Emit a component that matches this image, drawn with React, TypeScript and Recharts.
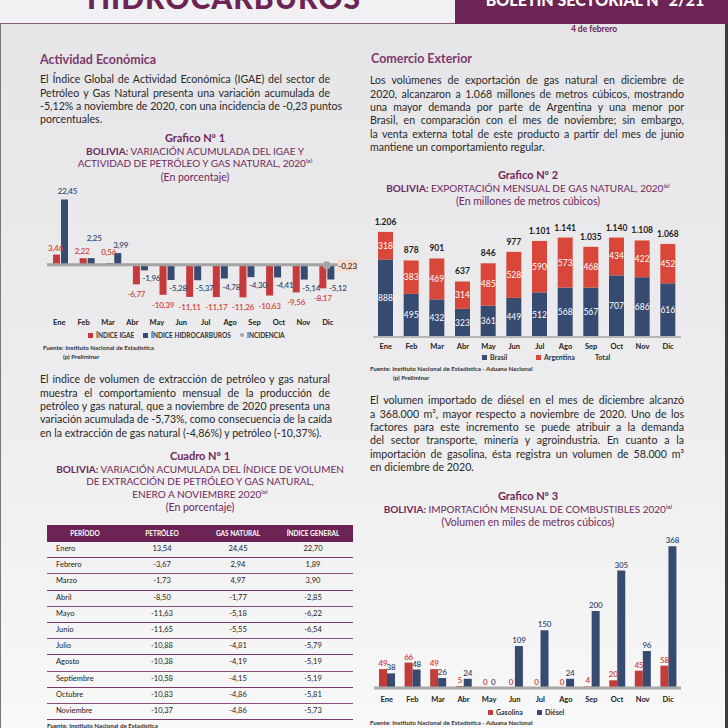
import React from "react";
import { ComposedChart, BarChart, Bar, Line, XAxis, YAxis, ReferenceLine, LabelList } from "recharts";

const MESES = ["Ene", "Feb", "Mar", "Abr", "May", "Jun", "Jul", "Ago", "Sep", "Oct", "Nov", "Dic"];

// Grafico 1 (datos de enero a noviembre)
const IGAE = [3.46, 2.22, 0.56, -6.77, -10.39, -11.11, -11.17, -11.26, -10.63, -9.56, -8.17];
const HIDRO = [22.45, 2.25, 3.99, -1.96, -5.28, -5.37, -4.78, -4.3, -4.41, -5.14, -5.12];
const INCIDENCIA = [null, null, null, null, null, null, null, null, null, null, -0.23];

// Grafico 2
const BRASIL = [888, 495, 432, 323, 361, 449, 512, 568, 567, 707, 686, 616];
const ARGENTINA = [318, 383, 469, 314, 485, 528, 590, 573, 468, 434, 422, 452];
const TOTAL = [1206, 878, 901, 637, 846, 977, 1101, 1141, 1035, 1140, 1108, 1068];

// Grafico 3
const GASOLINA = [49, 66, 49, 5, 0, 0, 0, 0, 4, 20, 45, 58];
const DIESEL = [38, 48, 26, 24, 0, 109, 150, 24, 200, 305, 96, 368];

// Cuadro 1
const PERIODOS = ["Enero", "Febrero", "Marzo", "Abril", "Mayo", "Junio", "Julio", "Agosto", "Septiembre", "Octubre", "Noviembre"];
const PETROLEO = [13.54, -3.67, -1.73, -8.5, -11.63, -11.65, -10.88, -10.38, -10.58, -10.83, -10.37];
const GAS_NATURAL = [24.45, 2.94, 4.97, -1.77, -5.18, -5.55, -4.81, -4.19, -4.15, -4.86, -4.86];
const INDICE_GENERAL = [22.7, 1.89, 3.9, -2.85, -6.22, -6.54, -5.79, -5.19, -5.19, -5.81, -5.73];

const PARA_1 = [
  "El Índice Global de Actividad Económica (IGAE) del sector de",
  "Petróleo y Gas Natural presenta una variación acumulada de",
  "-5,12% a noviembre de 2020, con una incidencia de -0,23 puntos",
  "porcentuales.",
];
const PARA_2 = [
  "El índice de volumen de extracción de petróleo y gas natural",
  "muestra el comportamiento mensual de la producción de",
  "petróleo y gas natural, que a noviembre de 2020 presenta una",
  "variación acumulada de -5,73%, como consecuencia de la caída",
  "en la extracción de gas natural (-4,86%) y petróleo (-10,37%).",
];
const PARA_3 = [
  "Los volúmenes de exportación de gas natural en diciembre de",
  "2020, alcanzaron a 1.068 millones de metros cúbicos, mostrando",
  "una mayor demanda por parte de Argentina y una menor por",
  "Brasil, en comparación con el mes de noviembre; sin embargo,",
  "la venta externa total de este producto a partir del mes de junio",
  "mantiene un comportamiento regular.",
];
const PARA_4 = [
  "El volumen importado de diésel en el mes de diciembre alcanzó",
  "a 368.000 m³, mayor respecto a noviembre de 2020. Uno de los",
  "factores para este incremento se puede atribuir a la demanda",
  "del sector transporte, minería y agroindustria. En cuanto a la",
  "importación de gasolina, ésta registra un volumen de 58.000 m³",
  "en diciembre de 2020.",
];

const FONT = "Lato, 'Open Sans', sans-serif";
const PURPLE = "#6b2453";
const TITLE = "#6e2a5c";
const TEXT = "#2a2a2a";
const RED = "#cf433a";
const BLUE = "#374a70";

const coma = (v: number) => v.toFixed(2).replace(".", ",");
const miles = (v: number) => (v >= 1000 ? Math.floor(v / 1000) + "." + String(v % 1000).padStart(3, "0") : String(v));

const g1 = IGAE.map((v, i) => ({ mes: MESES[i], igae: v, hidro: HIDRO[i], inc: INCIDENCIA[i] }));
const g1Meses = MESES.map((m) => ({ mes: m }));
const g2 = MESES.map((m, i) => ({ mes: m, brasil: BRASIL[i], argentina: ARGENTINA[i], total: TOTAL[i] }));
const g3 = MESES.map((m, i) => ({ mes: m, gasolina: GASOLINA[i], diesel: DIESEL[i] }));

// texto posicionado por su centro vertical
function T({ x, y, w = 0, align = "left", size = 10, weight = 400, color = TEXT, children, style }: any) {
  const h = Math.round(size * 1.3);
  const left = align === "center" ? x - w / 2 : x;
  return (
    <div style={{ position: "absolute", left, top: y - h / 2, width: w || undefined, height: h, lineHeight: h + "px",
      fontSize: size, fontWeight: weight, color, textAlign: align, whiteSpace: "nowrap", ...style }}>
      {children}
    </div>
  );
}

function Para({ lines, x, y, w, lh = 13.4, size = 10.6 }: any) {
  return (
    <div style={{ position: "absolute", left: x, top: y - lh / 2, width: w, fontSize: size, lineHeight: lh + "px", color: TEXT }}>
      {lines.map((l: string, i: number) => (
        <div key={i} style={{ whiteSpace: "nowrap", textAlign: "justify", textAlignLast: i < lines.length - 1 ? "justify" : "left", height: lh }}>{l}</div>
      ))}
    </div>
  );
}

function Titulo({ cx, y, n, lines, sub }: any) {
  return (
    <>
      <T x={cx} y={y} w={360} align="center" size={11} weight={700} color={TITLE}>{n}</T>
      {lines.map((l: string, i: number) => (
        <T key={i} x={cx} y={y + 13 + i * 12.5} w={360} align="center" size={10} color={TITLE}>
          {i === 0 ? <><b>BOLIVIA:</b>{l}</> : l}
        </T>
      ))}
      <T x={cx} y={y + 13 + lines.length * 12.5 + 0.5} w={360} align="center" size={10.5} color={TITLE}>{sub}</T>
    </>
  );
}

function Leyenda({ y, items }: any) {
  return (
    <>
      {items.map((it: any) => (
        <div key={it.label} style={{ position: "absolute", left: it.x, top: y - 6, height: 12, display: "flex", alignItems: "center", gap: 3 }}>
          {it.color ? (
            <div style={{ width: it.dot ? 4 : 5, height: it.dot ? 4 : 5, borderRadius: it.dot ? 2 : 0, background: it.color }} />
          ) : null}
          <span style={{ fontSize: it.size || 7, fontWeight: 700, color: "#333" }}>{it.label}</span>
        </div>
      ))}
    </>
  );
}

const valSt = (fill: string) => ({ fontSize: 8, fontWeight: 600, fill, fontFamily: FONT, letterSpacing: -0.2 }) as any;

const RojoLabel = (p: any) => {
  const { x, y, width, height, value } = p;
  if (value == null) return null;
  const top = Math.min(y, y + height), bot = Math.max(y, y + height);
  const cx = x + width / 2;
  if (value >= 0) {
    return <text x={cx - 1} y={Math.min(top - 7, bot - 13)} textAnchor="middle" dominantBaseline="central" style={valSt(RED)}>{coma(value)}</text>;
  }
  return <text x={cx} y={bot + 10} textAnchor="middle" dominantBaseline="central" style={valSt(RED)}>{coma(value)}</text>;
};

const AzulLabel = (p: any) => {
  const { x, y, width, height, value, index } = p;
  if (value == null) return null;
  const top = Math.min(y, y + height), bot = Math.max(y, y + height);
  const cx = x + width / 2;
  if (value >= 0) {
    let ly = top - 8;
    const red = IGAE[index];
    if (red > 1 && Math.abs(red - value) < 3) {
      const k = (bot - top) / value;
      const redTop = bot - k * red;
      ly = Math.min(ly, Math.min(redTop - 7, bot - 13) - 13);
    }
    return <text x={cx + 3} y={ly} textAnchor="middle" dominantBaseline="central" style={valSt(BLUE)}>{coma(value)}</text>;
  }
  return <text x={cx + 7} y={bot + 8} textAnchor="middle" dominantBaseline="central" style={valSt(BLUE)}>{coma(value)}</text>;
};

const IncLabel = (p: any) => {
  const { x, y, value } = p;
  if (value == null) return null;
  return (
    <g>
      <rect x={x + 11} y={y - 6} width={20} height={12} fill="#f7dccd" />
      <text x={x + 21} y={y + 0.5} textAnchor="middle" dominantBaseline="central" style={{ fontSize: 8, fontWeight: 600, fill: "#333", fontFamily: FONT }}>{coma(value)}</text>
    </g>
  );
};

const tickSt = { fontSize: 7.5, fontWeight: 700, fill: "#222", fontFamily: FONT };

function Grafico1() {
  return (
    <ComposedChart width={320} height={131} data={g1} margin={{ top: 12, right: 27, bottom: 0, left: 0 }} barSize={7} barGap={1}>
      <XAxis dataKey="mes" hide />
      <YAxis domain={[-17, 24]} hide allowDataOverflow />
      <ReferenceLine y={0} stroke="#a3a3a3" strokeWidth={3} />
      <Bar dataKey="igae" fill="#c8393b" isAnimationActive={false}>
        <LabelList dataKey="igae" content={RojoLabel} />
      </Bar>
      <Bar dataKey="hidro" fill={BLUE} isAnimationActive={false}>
        <LabelList dataKey="hidro" content={AzulLabel} />
      </Bar>
      <Line dataKey="inc" stroke="none" dot={{ r: 4, fill: "#a5a5a5", stroke: "none" }} isAnimationActive={false}>
        <LabelList dataKey="inc" content={IncLabel} />
      </Line>
    </ComposedChart>
  );
}

// eje de meses del grafico 1 (12 etiquetas, 11 datos)
function Grafico1Meses() {
  return (
    <BarChart width={293} height={16} data={g1Meses} margin={{ top: 0, right: 0, bottom: 0, left: 0 }}>
      <XAxis dataKey="mes" axisLine={false} tickLine={false} tickMargin={1} height={16} tick={tickSt} interval={0} orientation="top" mirror />
    </BarChart>
  );
}

const blancoLabel = { fill: "#fff", fontSize: 8.5, fontFamily: FONT };

function Grafico2() {
  return (
    <BarChart width={308} height={136} data={g2} margin={{ top: 0, right: 0, bottom: 0, left: 0 }} barSize={15}>
      <XAxis dataKey="mes" axisLine={{ stroke: "#b5b5b5", strokeWidth: 2 }} tickLine={false} tickMargin={1} height={14} tick={tickSt} interval={0} />
      <YAxis domain={[0, 1400]} hide allowDataOverflow />
      <Bar dataKey="brasil" stackId="a" fill={BLUE} isAnimationActive={false}>
        <LabelList dataKey="brasil" position="center" style={blancoLabel} />
      </Bar>
      <Bar dataKey="argentina" stackId="a" fill="#d9473a" isAnimationActive={false}>
        <LabelList dataKey="argentina" position="center" style={blancoLabel} />
        <LabelList dataKey="total" position="top" offset={7} formatter={(v: any) => miles(Number(v))}
          style={{ fill: "#222", fontSize: 8.5, fontWeight: 700, fontFamily: FONT }} />
      </Bar>
    </BarChart>
  );
}

function Grafico3() {
  return (
    <BarChart width={307} height={174} data={g3} margin={{ top: 0, right: 0, bottom: 0, left: 0 }} barSize={8} barGap={0}>
      <XAxis dataKey="mes" axisLine={{ stroke: "#a9a9a9", strokeWidth: 3 }} tickLine={false} tickMargin={3} height={20} tick={tickSt} interval={0} />
      <YAxis domain={[0, 400]} hide allowDataOverflow />
      <Bar dataKey="gasolina" fill="#c23d38" minPointSize={0.2} isAnimationActive={false}>
        <LabelList dataKey="gasolina" position="top" offset={3} style={valSt("#d23b35")} />
      </Bar>
      <Bar dataKey="diesel" fill={BLUE} minPointSize={0.2} isAnimationActive={false}>
        <LabelList dataKey="diesel" position="top" offset={3} style={valSt(BLUE)} />
      </Bar>
    </BarChart>
  );
}

const COLS = [162, 238, 313];

function Cuadro() {
  const y0 = 549, step = 16.2;
  return (
    <>
      <div style={{ position: "absolute", left: 47, top: 525, width: 306, height: 17, background: PURPLE }} />
      <T x={85} y={533.5} w={80} align="center" size={6.5} weight={700} color="#fff">PERÍODO</T>
      <T x={162} y={533.5} w={80} align="center" size={6.5} weight={700} color="#fff">PETRÓLEO</T>
      <T x={238} y={533.5} w={80} align="center" size={6.5} weight={700} color="#fff">GAS NATURAL</T>
      <T x={313} y={533.5} w={80} align="center" size={6.5} weight={700} color="#fff">ÍNDICE GENERAL</T>
      {PERIODOS.map((p, i) => {
        const y = y0 + i * step;
        return (
          <React.Fragment key={p}>
            <T x={56} y={y} size={7.5} color="#222">{p}</T>
            {[PETROLEO[i], GAS_NATURAL[i], INDICE_GENERAL[i]].map((v, j) => (
              <T key={j} x={COLS[j]} y={y} w={60} align="center" size={7.5} color="#222">{coma(v)}</T>
            ))}
            <div style={{ position: "absolute", left: 47, top: y + step / 2, width: 306, height: 1.2, background: i % 2 ? "#8a4f79" : "#7a3a69" }} />
          </React.Fragment>
        );
      })}
    </>
  );
}

export default function App() {
  return (
    <div style={{ position: "absolute", left: 0, top: 0, width: 728, height: 728, overflow: "hidden", fontFamily: FONT,
      background: "linear-gradient(#e5e4e7 0%, #ecebed 50%, #f8f8f8 100%)" }}>
      {/* cabecera */}
      <div style={{ position: "absolute", left: 0, top: 0, width: 455, height: 23, background: "#f1f0f2", borderBottom: "1px solid #8a5a7c" }} />
      <div style={{ position: "absolute", left: 455, top: 0, width: 273, height: 24, background: PURPLE }} />
      <svg width={728} height={24} style={{ position: "absolute", left: 0, top: 0 }}>
        <text x={224} y={9} textAnchor="middle" style={{ fontSize: 30, fontWeight: 900, fill: PURPLE, fontFamily: FONT, letterSpacing: 1 }}>HIDROCARBUROS</text>
        <text x={595} y={6} textAnchor="middle" style={{ fontSize: 16, fontWeight: 900, fill: "#fff", fontFamily: FONT }}>BOLETÍN SECTORIAL Nº 2/21</text>
      </svg>
      <T x={594} y={29} w={100} align="center" size={8.5} weight={700} color={PURPLE}>4 de febrero</T>
      <div style={{ position: "absolute", left: 0, top: 24, width: 1, height: 704, background: "#777" }} />
      <div style={{ position: "absolute", left: 725, top: 24, width: 3, height: 704, background: "#3c3c3c" }} />

      {/* columna izquierda */}
      <T x={40} y={60} size={12.5} weight={700} color="#7b3a6c">Actividad Económica</T>
      <Para lines={PARA_1} x={40} y={80} w={290} />
      <Titulo cx={195} y={138} n="Grafico Nº 1" lines={[" VARIACIÓN ACUMULADA DEL IGAE Y", "ACTIVIDAD DE PETRÓLEO Y GAS NATURAL, 2020⁽ᵖ⁾"]} sub="(En porcentaje)" />
      <div style={{ position: "absolute", left: 47, top: 183 }}><Grafico1 /></div>
      <div style={{ position: "absolute", left: 47, top: 313 }}><Grafico1Meses /></div>
      <Leyenda y={335} items={[
        { x: 88, color: "#c8393b", label: "ÍNDICE IGAE", size: 6.5 },
        { x: 143, color: BLUE, label: "ÍNDICE HIDROCARBUROS", size: 6.5 },
        { x: 240, color: "#a5a5a5", dot: true, label: "INCIDENCIA", size: 6.5 },
      ]} />
      <T x={43} y={348} size={6.2} weight={700} color="#333">Fuente: Instituto Nacional de Estadística</T>
      <T x={63} y={357} size={6.2} weight={700} color="#333">(p) Preliminar</T>

      <Para lines={PARA_2} x={40} y={380} w={290} />
      <Titulo cx={200} y={456} n="Cuadro Nº 1" lines={[" VARIACIÓN ACUMULADA DEL ÍNDICE DE VOLUMEN", "DE EXTRACCIÓN DE PETRÓLEO Y GAS NATURAL,", "ENERO A NOVIEMBRE 2020⁽ᵖ⁾"]} sub="(En porcentaje)" />
      <Cuadro />
      <T x={47} y={726} size={6.2} weight={700} color="#333">Fuente: Instituto Nacional de Estadística</T>

      {/* columna derecha */}
      <T x={371} y={59} size={12.5} weight={700} color="#7b3a6c">Comercio Exterior</T>
      <Para lines={PARA_3} x={370} y={81} w={314} />
      <Titulo cx={528} y={175} n="Grafico Nº 2" lines={[" EXPORTACIÓN MENSUAL DE GAS NATURAL, 2020⁽ᵖ⁾"]} sub="(En millones de metros cúbicos)" />
      <div style={{ position: "absolute", left: 373, top: 215 }}><Grafico2 /></div>
      <Leyenda y={357} items={[
        { x: 482, color: BLUE, label: "Brasil" },
        { x: 536, color: "#d9473a", label: "Argentina" },
        { x: 595, color: null, label: "Total" },
      ]} />
      <T x={370} y={369} size={6.2} weight={700} color="#333">Fuente: Instituto Nacional de Estadística - Aduana Nacional</T>
      <T x={393} y={378} size={6.2} weight={700} color="#333">(p) Preliminar</T>

      <Para lines={PARA_4} x={370} y={401} w={314} />
      <Titulo cx={528} y={496} n="Grafico Nº 3" lines={[" IMPORTACIÓN MENSUAL DE COMBUSTIBLES 2020⁽ᵖ⁾"]} sub="(Volumen en miles de metros cúbicos)" />
      <div style={{ position: "absolute", left: 374, top: 534 }}><Grafico3 /></div>
      <Leyenda y={712} items={[
        { x: 488, color: "#c23d38", label: "Gasolina" },
        { x: 537, color: BLUE, label: "Diésel" },
      ]} />
      <T x={370} y={723} size={6.2} weight={700} color="#333">Fuente: Instituto Nacional de Estadística - Aduana Nacional</T>
    </div>
  );
}
